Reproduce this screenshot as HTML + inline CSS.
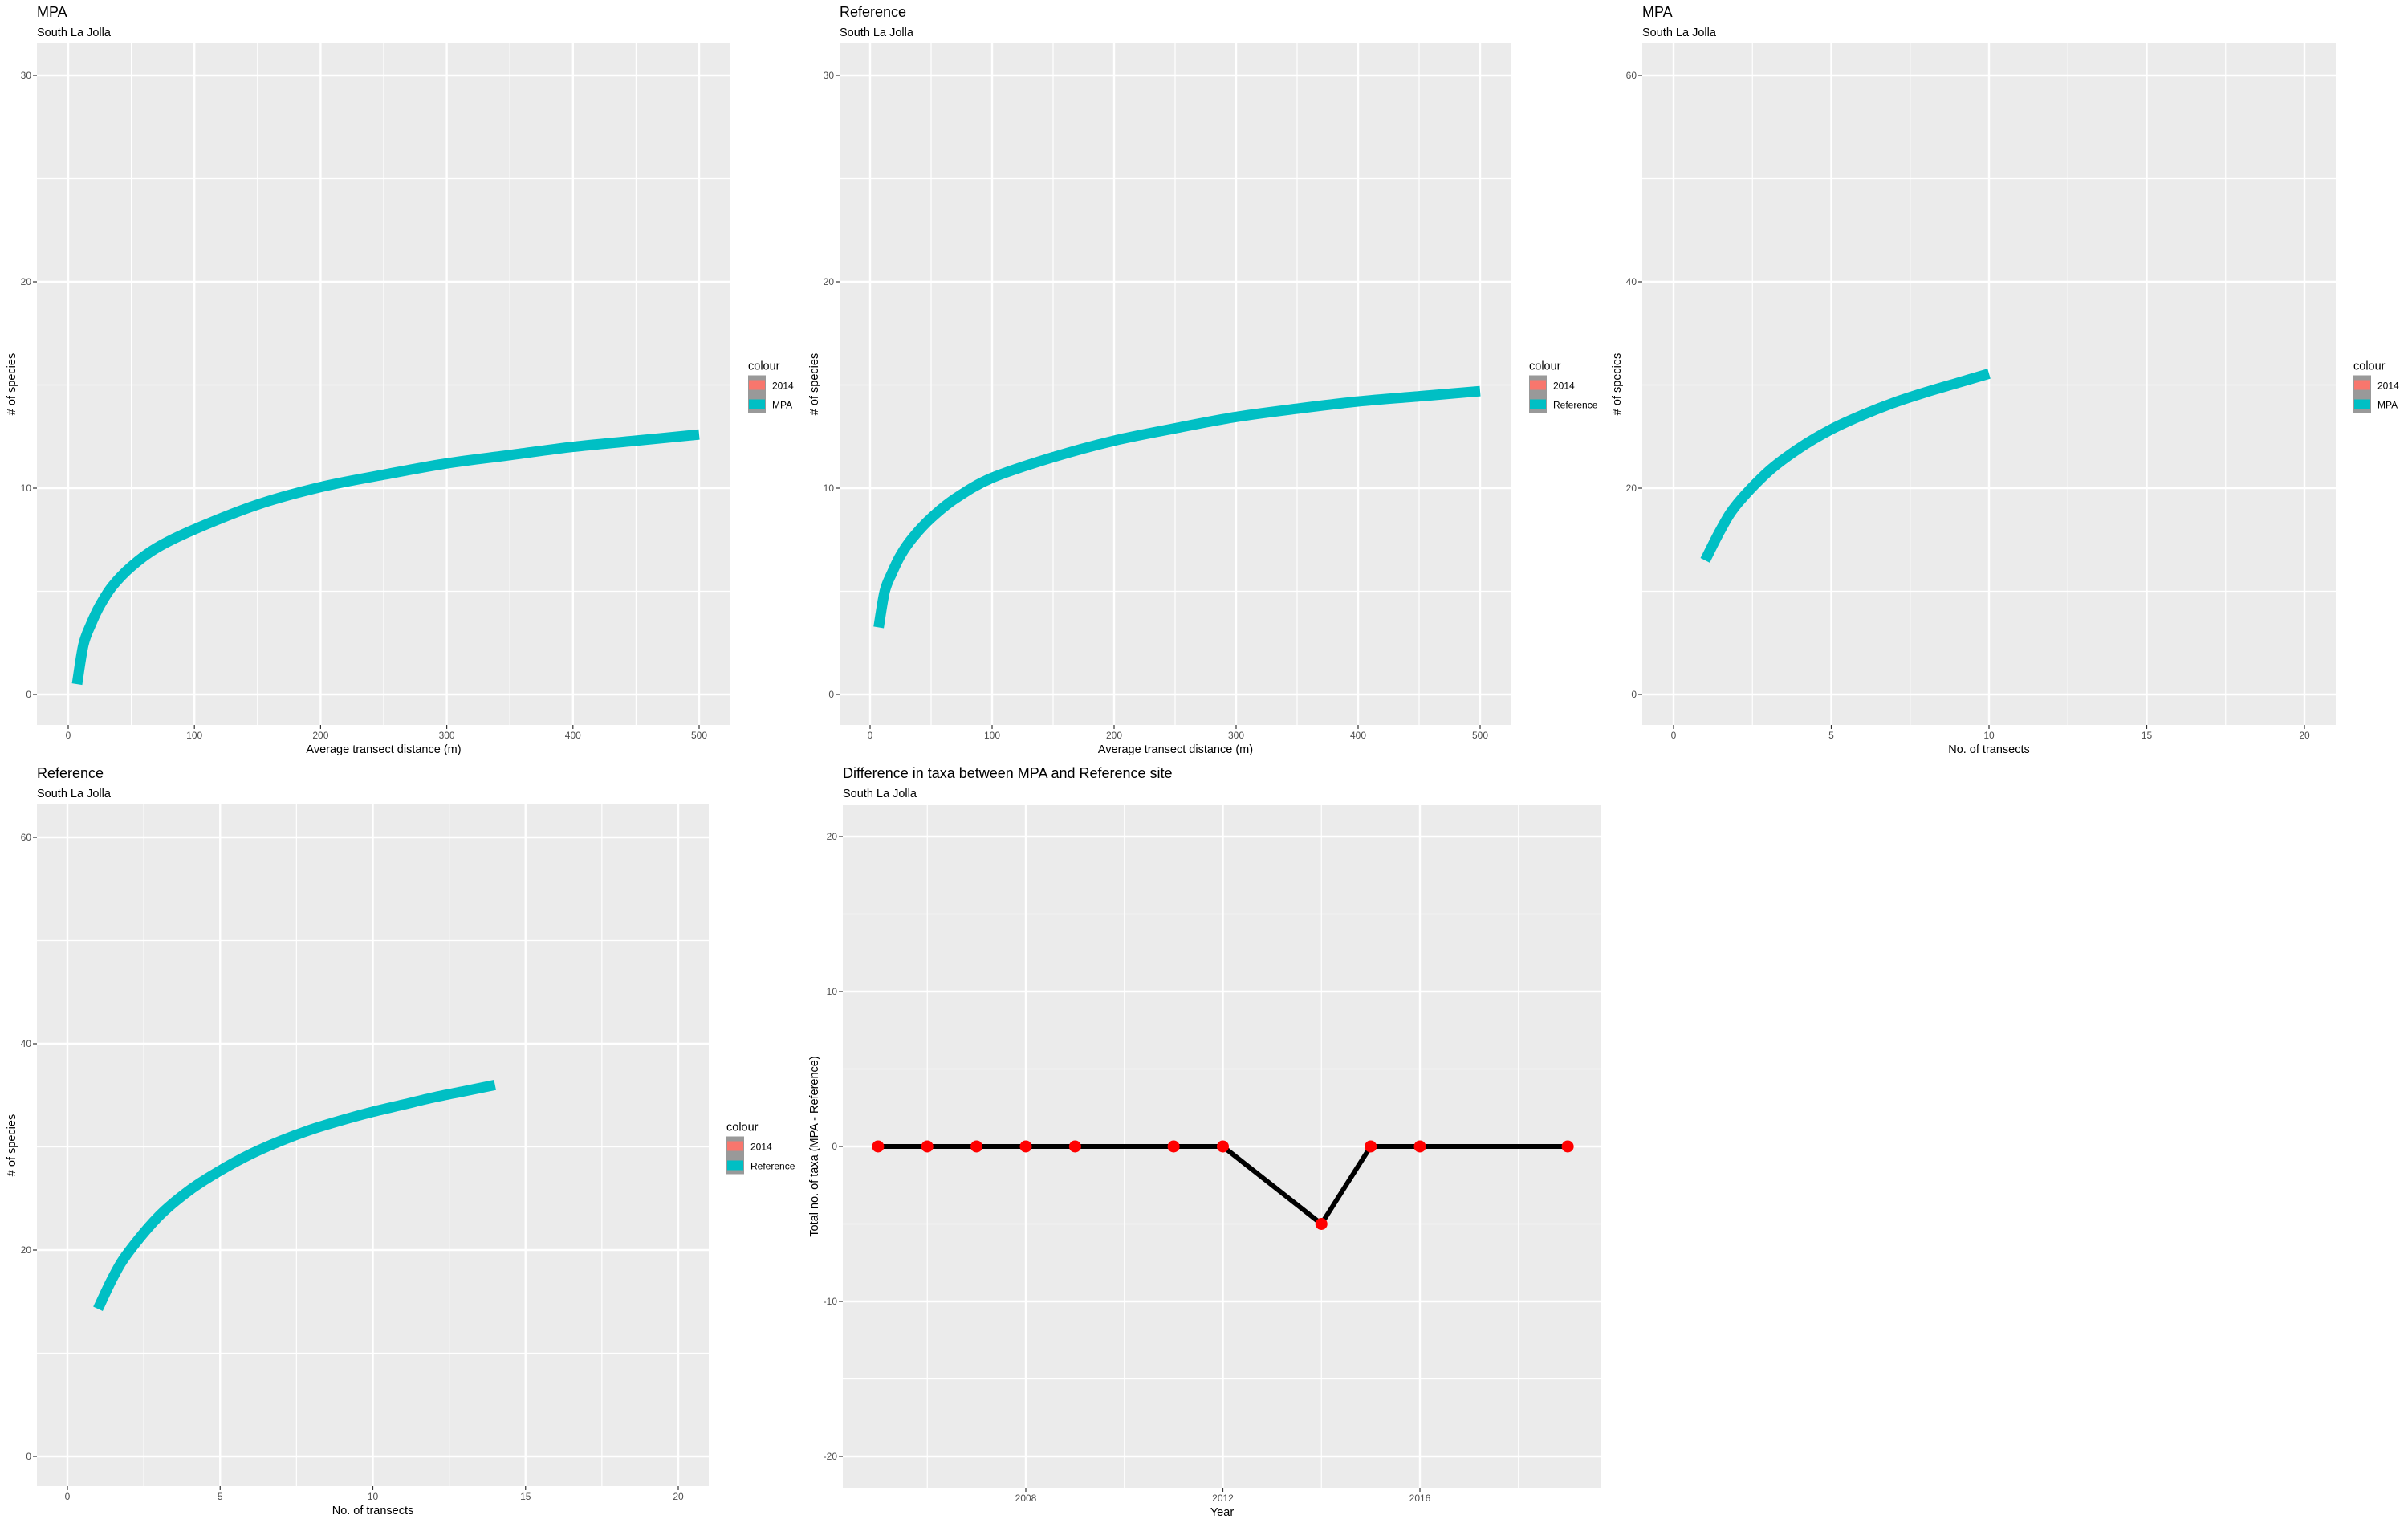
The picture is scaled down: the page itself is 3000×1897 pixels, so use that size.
<!DOCTYPE html>
<html><head><meta charset="utf-8"><title>Species accumulation panels</title>
<style>html,body{margin:0;padding:0;background:#fff}svg{display:block}text{font-family:"Liberation Sans",Arial,sans-serif}</style>
</head><body>
<svg id="root" width="3000" height="1897" viewBox="0 0 3000 1897" xmlns="http://www.w3.org/2000/svg"></svg>
<script>
// ---- data ----
const p1X = [7,12,18,25,35,50,70,100,150,200,250,300,350,400,450,500];
const p1Y = [0.5,2.4,3.4,4.3,5.25,6.2,7.1,8.0,9.2,10.05,10.65,11.2,11.6,12.0,12.3,12.6];
const p2X = [7,12,18,25,35,50,70,100,150,200,250,300,350,400,450,500];
const p2Y = [3.25,5.0,5.9,6.75,7.6,8.55,9.5,10.5,11.5,12.3,12.9,13.45,13.85,14.2,14.45,14.7];
const p3X = [1,1.5,2,3,4,5,6,7,8,9,10];
const p3Y = [13,16,18.4,21.6,23.9,25.7,27.1,28.3,29.3,30.2,31.1];
const p4X = [1,1.5,2,3,4,5,6,7,8,9,10,11,12,13,14];
const p4Y = [14.3,17.4,19.8,23.3,25.8,27.7,29.3,30.6,31.7,32.6,33.4,34.1,34.8,35.4,36.0];
const p5Years = [2005,2006,2007,2008,2009,2011,2012,2014,2015,2016,2019];
const p5Diff = [0,0,0,0,0,0,0,-5,0,0,0];
const distTicks = [0,100,200,300,400,500];
const distMinor = [50,150,250,350,450];
const transTicks = [0,5,10,15,20];
const transMinor = [2.5,7.5,12.5,17.5];
const yTicks30 = [0,10,20,30];
const yMinor30 = [5,15,25];
const yTicks60 = [0,20,40,60];
const yMinor60 = [10,30,50];
const yearTicks = [2008,2012,2016];
const yearMinor = [2006,2010,2014,2018];
const diffTicks = [-20,-10,0,10,20];
const diffMinor = [-15,-5,5,15];

const NS = "http://www.w3.org/2000/svg";
const root = document.getElementById('root');
function mk(tag, attrs, parent){ const e=document.createElementNS(NS,tag); for(const k in attrs) e.setAttribute(k,attrs[k]); (parent||root).appendChild(e); return e; }
function txt(s, attrs, parent){ const e=mk('text',attrs,parent); e.textContent=s; return e; }
function smoothPath(pts){
  let d = `M${pts[0][0]},${pts[0][1]}`;
  for(let i=0;i<pts.length-1;i++){
    const p0=pts[Math.max(0,i-1)], p1=pts[i], p2=pts[i+1], p3=pts[Math.min(pts.length-1,i+2)];
    const c1x=p1[0]+(p2[0]-p0[0])/6, c1y=p1[1]+(p2[1]-p0[1])/6;
    const c2x=p2[0]-(p3[0]-p1[0])/6, c2y=p2[1]-(p3[1]-p1[1])/6;
    d += ` C${c1x},${c1y} ${c2x},${c2y} ${p2[0]},${p2[1]}`;
  }
  return d;
}

function panel(c){
  const g = mk('g',{});
  
  
  const sx = v => c.x0 + (v - c.xv0) * (c.x1 - c.x0) / (c.xv1 - c.xv0);
  const sy = v => c.y0 + (v - c.yv0) * (c.y1 - c.y0) / (c.yv1 - c.yv0);
  const t = txt(c.title,{x:c.L,y:c.titleY,'font-size':18,fill:'#000'},g);
   
  const st = txt('South La Jolla',{x:c.L,y:c.titleY+24,'font-size':14.5,fill:'#000'},g);
   
  const bg = mk('rect',{x:c.L,y:c.T,width:c.R-c.L,height:c.B-c.T,fill:'#EBEBEB'},g);
   
  c.xMinor.forEach(v=>{ const l=mk('line',{x1:sx(v),x2:sx(v),y1:c.T,y2:c.B,stroke:'#fff','stroke-width':1.2},g);   });
  c.yMinor.forEach(v=>{ const l=mk('line',{x1:c.L,x2:c.R,y1:sy(v),y2:sy(v),stroke:'#fff','stroke-width':1.2},g);   });
  c.xTicks.forEach(v=>{
    const l=mk('line',{x1:sx(v),x2:sx(v),y1:c.T,y2:c.B,stroke:'#fff','stroke-width':2.4},g);  
    const tk=mk('line',{x1:sx(v),x2:sx(v),y1:c.B,y2:c.B+5,stroke:'#333','stroke-width':1.2},g);  
    const lb=txt(String(v),{x:sx(v),y:c.B+17,'font-size':12,fill:'#4D4D4D','text-anchor':'middle'},g);  
  });
  c.yTicks.forEach(v=>{
    const l=mk('line',{x1:c.L,x2:c.R,y1:sy(v),y2:sy(v),stroke:'#fff','stroke-width':2.4},g);  
    const tk=mk('line',{x1:c.L-5,x2:c.L,y1:sy(v),y2:sy(v),stroke:'#333','stroke-width':1.2},g);  
    const lb=txt(String(v),{x:c.L-7,y:sy(v)+4,'font-size':12,fill:'#4D4D4D','text-anchor':'end'},g);  
  });
  const xt=txt(c.xTitle,{x:(c.L+c.R)/2,y:c.B+35,'font-size':14.5,fill:'#000','text-anchor':'middle'},g);
   
  const yc=(c.T+c.B)/2;
  const yt=txt(c.yTitle,{x:0,y:0,'font-size':14.5,fill:'#000','text-anchor':'middle',transform:`translate(${c.yTitleX},${yc}) rotate(-90)`},g);
   
  const cid='clip-'+c.name;
  const cp=mk('clipPath',{id:cid},g); mk('rect',{x:c.L,y:c.T,width:c.R-c.L,height:c.B-c.T},cp);
  if(c.curveX){
    const pts=c.curveX.map((v,i)=>[sx(v),sy(c.curveY[i])]);
    const p=mk('path',{d:smoothPath(pts),fill:'none',stroke:'#00BFC4','stroke-width':13,'stroke-linecap':'butt','stroke-linejoin':'round','clip-path':`url(#${cid})`},g);
     
  }
  if(c.ptsX){
    const pts=c.ptsX.map((v,i)=>`${sx(v)},${sy(c.ptsY[i])}`).join(' ');
    const pl=mk('polyline',{points:pts,fill:'none',stroke:'#000','stroke-width':6,'stroke-linejoin':'round'},g);
     
    c.ptsX.forEach((v,i)=>{
      const ci=mk('circle',{cx:sx(v),cy:sy(c.ptsY[i]),r:7.5,fill:'#FF0000'},g);
       
    });
  }
  if(c.legend){
    const lx=c.R+22, ly=(c.T+c.B)/2;
    const lg=mk('g',{},g);  
    const lt=txt('colour',{x:lx,y:ly-18,'font-size':14.5,fill:'#000'},lg);  
    const kb=mk('rect',{x:lx,y:ly-11,width:22,height:47,fill:'#999999'},lg);  
    const k1=mk('rect',{x:lx+1,y:ly-5,width:20,height:12,fill:'#F8766D'},lg);  
    const k2=mk('rect',{x:lx+1,y:ly+19,width:20,height:12,fill:'#00BFC4'},lg);  
    const e1=txt('2014',{x:lx+30,y:ly+6,'font-size':12,fill:'#000'},lg);  
    const e2=txt(c.legend,{x:lx+30,y:ly+30,'font-size':12,fill:'#000'},lg);  
  }
}

panel({name:'mpa-distance-panel',title:'MPA',titleY:21,L:46,R:910,T:54,B:903,
  x0:85,x1:871,xv0:0,xv1:500,y0:865,y1:94,yv0:0,yv1:30,
  xTicks:distTicks,xMinor:distMinor,yTicks:yTicks30,yMinor:yMinor30,
  xTitle:'Average transect distance (m)',yTitle:'# of species',yTitleX:19,
  curveX:p1X,curveY:p1Y,legend:'MPA'});
panel({name:'reference-distance-panel',title:'Reference',titleY:21,L:1046,R:1883,T:54,B:903,
  x0:1084,x1:1844,xv0:0,xv1:500,y0:865,y1:94,yv0:0,yv1:30,
  xTicks:distTicks,xMinor:distMinor,yTicks:yTicks30,yMinor:yMinor30,
  xTitle:'Average transect distance (m)',yTitle:'# of species',yTitleX:1019,
  curveX:p2X,curveY:p2Y,legend:'Reference'});
panel({name:'mpa-transects-panel',title:'MPA',titleY:21,L:2046,R:2910,T:54,B:903,
  x0:2085,x1:2871,xv0:0,xv1:20,y0:865,y1:94,yv0:0,yv1:60,
  xTicks:transTicks,xMinor:transMinor,yTicks:yTicks60,yMinor:yMinor60,
  xTitle:'No. of transects',yTitle:'# of species',yTitleX:2019,
  curveX:p3X,curveY:p3Y,legend:'MPA'});
panel({name:'reference-transects-panel',title:'Reference',titleY:969,L:46,R:883,T:1002,B:1851,
  x0:84,x1:845,xv0:0,xv1:20,y0:1814,y1:1043,yv0:0,yv1:60,
  xTicks:transTicks,xMinor:transMinor,yTicks:yTicks60,yMinor:yMinor60,
  xTitle:'No. of transects',yTitle:'# of species',yTitleX:19,
  curveX:p4X,curveY:p4Y,legend:'Reference'});
panel({name:'difference-panel',title:'Difference in taxa between MPA and Reference site',titleY:969,L:1050,R:1995,T:1003,B:1853,
  x0:1278,x1:1769,xv0:2008,xv1:2016,y0:1428,y1:1042,yv0:0,yv1:20,
  xTicks:yearTicks,xMinor:yearMinor,yTicks:diffTicks,yMinor:diffMinor,
  xTitle:'Year',yTitle:'Total no. of taxa (MPA - Reference)',yTitleX:1019,
  ptsX:p5Years,ptsY:p5Diff});
</script>
</body></html>
